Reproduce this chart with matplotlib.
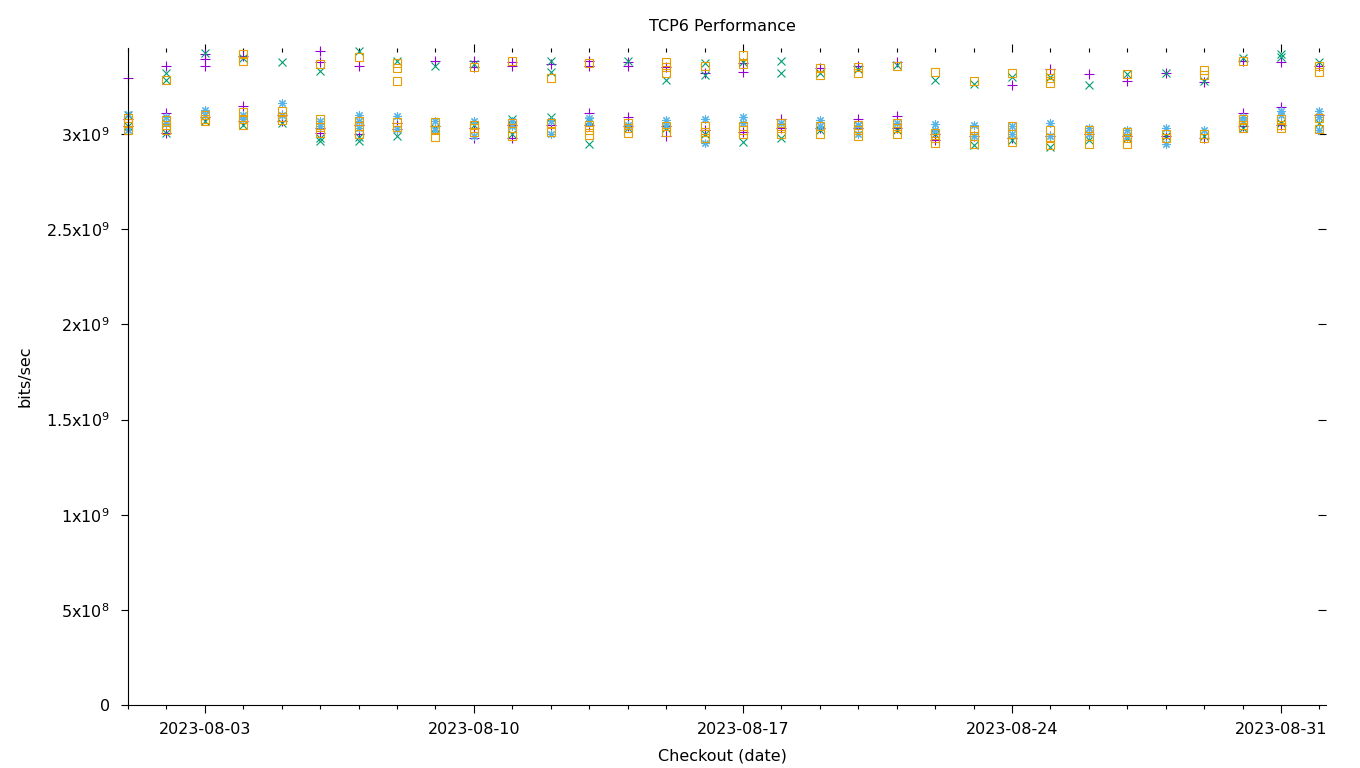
import numpy as np
import matplotlib
matplotlib.use('Agg')
from matplotlib import pyplot as plt
import matplotlib.dates as mdates
from matplotlib.ticker import FixedLocator, FuncFormatter

# Checkout days (Aug 1 .. Sep 1)
days = np.arange(np.datetime64('2023-08-01'), np.datetime64('2023-09-02'), np.timedelta64(1, 'D'))

# Measured throughput per day, in units of 1e9 bits/sec
purple_plus = [
    [3.293, 3.08, 3.04], [3.358, 3.109, 3.006], [3.42, 3.393, 3.358, 3.09], [3.41, 3.148, 3.07],
    [3.07, 3.10], [3.434, 3.376, 3.004, 3.03], [3.358, 3.0, 3.05], [3.025, 3.06],
    [3.386, 3.04], [3.386, 3.354, 2.978, 3.03], [3.38, 3.358, 2.978, 3.05], [3.368, 3.05],
    [3.386, 3.36, 3.109, 3.05], [3.376, 3.36, 3.09, 3.04], [3.35, 2.99, 3.04], [3.323, 3.02],
    [3.371, 3.328, 3.01], [3.078, 3.03], [3.348, 3.03], [3.358, 3.078, 3.03],
    [3.376, 3.095, 3.03], [2.97, 3.0], [2.99], [3.258, 2.98],
    [3.34, 2.99], [3.313, 3.0], [3.281, 2.99], [3.319, 2.99],
    [3.272, 2.98], [3.386, 3.109, 3.04], [3.38, 3.143, 3.05], [3.36, 3.10],
]
green_x = [
    [3.10, 3.04], [3.319, 3.284, 3.006, 3.06], [3.428, 3.07], [3.40, 3.048],
    [3.381, 3.057], [3.333, 2.978, 2.964], [3.434, 2.986, 2.964], [3.386, 2.99],
    [3.358, 3.03], [3.37, 3.05], [3.081, 3.0], [3.386, 3.328, 3.09],
    [2.946, 3.07], [3.386, 3.03], [3.284, 3.03], [3.371, 3.31, 3.0],
    [3.38, 2.959], [3.384, 3.323, 2.978], [3.32, 3.02], [3.34, 3.05],
    [3.365, 3.02], [3.284, 3.0], [3.264, 2.94], [3.302, 2.97],
    [3.30, 2.93], [3.258, 2.97], [3.313, 2.98], [3.319, 2.99],
    [3.281, 2.99], [3.40, 3.03], [3.423, 3.404, 3.06], [3.38, 3.06],
]
blue_star = [
    [3.105, 3.021], [3.09, 3.06], [3.127, 3.10], [3.10, 3.08],
    [3.165, 3.10], [3.07, 3.04], [3.10, 3.07, 3.03], [3.095, 3.025],
    [3.07, 3.02], [3.069, 2.99], [3.07, 3.04], [3.07, 3.0],
    [3.083, 3.06], [3.05], [3.074, 3.05], [3.078, 2.955],
    [3.09, 3.06], [3.06], [3.074, 3.04], [3.05, 3.0],
    [3.06], [3.052, 3.02], [3.05, 2.99], [3.04, 3.0],
    [3.058, 2.99], [3.03, 3.0], [3.02, 2.99], [3.03, 2.95],
    [3.02], [3.09, 3.07], [3.12, 3.10], [3.12, 3.09, 3.02],
]
orange_square = [
    [3.085, 3.058, 3.021], [3.284, 3.074, 3.047, 3.021], [3.10, 3.08, 3.07], [3.421, 3.384, 3.117, 3.08, 3.048],
    [3.12, 3.09, 3.074], [3.366, 3.078, 3.039, 3.004], [3.404, 3.07, 3.04, 3.0], [3.371, 3.345, 3.279, 3.064, 3.039],
    [3.064, 3.021, 2.986], [3.354, 3.048, 3.03, 3.013], [3.386, 3.06, 3.03, 2.99], [3.293, 3.06, 3.01],
    [3.371, 3.048, 3.021, 2.995], [3.057, 3.03, 3.004], [3.381, 3.354, 3.322, 3.04, 3.01], [3.358, 3.04, 3.01, 2.98],
    [3.416, 3.37, 3.04, 3.02, 3.0], [3.06, 3.03, 3.0], [3.348, 3.31, 3.04, 3.0], [3.354, 3.322, 3.05, 3.02, 2.99],
    [3.36, 3.06, 3.03, 3.0], [3.328, 3.004, 2.98, 2.952], [3.279, 3.02, 2.99, 2.95], [3.322, 3.04, 3.0, 2.96],
    [3.319, 3.293, 3.266, 3.02, 2.98, 2.94], [3.02, 2.99, 2.95], [3.313, 3.01, 2.98, 2.95], [3.0, 2.98],
    [3.337, 3.31, 3.0, 2.98], [3.386, 3.08, 3.05, 3.03], [3.08, 3.05, 3.03], [3.358, 3.328, 3.083, 3.025],
]

ytick_vals = [0, 0.5e9, 1e9, 1.5e9, 2e9, 2.5e9, 3e9]
ytick_labels = ['0', '5x10$^{8}$', '1x10$^{9}$', '1.5x10$^{9}$', '2x10$^{9}$', '2.5x10$^{9}$', '3x10$^{9}$']
xtick_dates = ['2023-08-03', '2023-08-10', '2023-08-17', '2023-08-24', '2023-08-31']

plt.rcParams['font.family'] = ['DejaVu Sans']
plt.rcParams['font.size'] = 11.5
plt.rcParams['mathtext.fontset'] = 'dejavusans'

fig = plt.figure(figsize=(13.6, 7.68), dpi=100)
ax = fig.add_axes([128 / 1360, 63 / 768, 1198 / 1360, 657 / 768])


def flatten(series):
    xs, ys = [], []
    for d, vals in zip(days, series):
        for v in vals:
            xs.append(d)
            ys.append(v * 1e9)
    return np.array(xs), np.array(ys)


styles = [
    (purple_plus, dict(marker='+', color='#9400D3', ms=6.5, mew=0.8)),
    (green_x, dict(marker='x', color='#009E73', ms=6.0, mew=0.8)),
    (blue_star, dict(marker=(8, 2, 0), color='#56B4E9', ms=6.0, mew=0.8)),
    (orange_square, dict(marker='s', color='#E69F00', mfc='none', ms=5.5, mew=0.8)),
]
for series, st in styles:
    xs, ys = flatten(series)
    ax.plot(xs, ys, linestyle='none', clip_on=False, **st)

x0 = mdates.date2num(np.datetime64('2023-08-01'))
x1 = mdates.date2num(np.datetime64('2023-09-01')) + 0.17
ax.set_xlim(x0, x1)
ax.set_ylim(0, 3.452e9)

major_x = [mdates.date2num(np.datetime64(d)) for d in xtick_dates]
minor_x = [mdates.date2num(d) for d in days]
ax.xaxis.set_major_locator(FixedLocator(major_x))
ax.xaxis.set_minor_locator(FixedLocator(minor_x))
ax.set_xticklabels(xtick_dates)
ax.set_yticks(ytick_vals)
ax.set_yticklabels(ytick_labels)

for s in ['top', 'right']:
    ax.spines[s].set_visible(False)
for s in ['left', 'bottom']:
    ax.spines[s].set_linewidth(0.8)

ax.tick_params(axis='x', which='major', direction='out', length=6, width=0.8, pad=6)
ax.tick_params(axis='x', which='minor', direction='out', length=3, width=0.8)
ax.tick_params(axis='y', which='major', direction='out', length=5, width=0.8, pad=8)

# mirrored ticks on the top and right edges (no border there)
top = ax.secondary_xaxis('top')
top.xaxis.set_major_locator(FixedLocator(major_x))
top.xaxis.set_minor_locator(FixedLocator(minor_x))
top.tick_params(which='major', direction='inout', length=6, width=0.8, labeltop=False)
top.tick_params(which='minor', direction='in', length=3, width=0.8)
top.spines['top'].set_visible(False)
top.xaxis.set_major_formatter(FuncFormatter(lambda v, p: ''))

right = ax.secondary_yaxis('right')
right.set_yticks(ytick_vals[1:])
right.tick_params(direction='in', length=6, width=0.8, labelright=False)
right.spines['right'].set_visible(False)

ax.set_title('TCP6 Performance', fontsize=11.5, x=0.4958, pad=12)
ax.set_xlabel('Checkout (date)')
ax.xaxis.set_label_coords(0.4958, -0.066)
ax.set_ylabel('bits/sec', labelpad=10)

fig.savefig('out.png', dpi=100)
